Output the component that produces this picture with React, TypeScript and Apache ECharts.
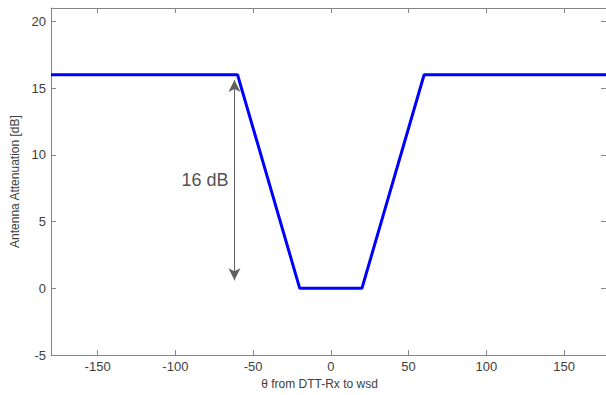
import React, { useEffect, useRef } from "react";
import * as echarts from "echarts";

const angles = [-180, -60, -20, 20, 60, 180];
const attenuation = [16, 16, 0, 0, 16, 16];
const xTicks = [-150, -100, -50, 0, 50, 100, 150];
const yTicks = [-5, 0, 5, 10, 15, 20];
const arrowX = -62;
const arrowFrom = 15.6;
const arrowTo = 0.6;
const annotation = { x: -81, y: 8.15, text: "16 dB" };

const FONT = "'Liberation Sans', Arial, sans-serif";
const AX = "#858585";

export default function App() {
  const ref = useRef<HTMLDivElement>(null);
  useEffect(() => {
    const chart = echarts.init(ref.current!, null, { renderer: "svg" });
    const axisCommon = {
      type: "value",
      axisLine: { show: true, onZero: false, lineStyle: { color: AX, width: 1 } },
      splitLine: { show: false },
    };
    chart.setOption({
      animation: false,
      backgroundColor: "#ffffff",
      grid: { left: 51, top: 8, width: 555, height: 351, containLabel: false },
      xAxis: [
        {
          ...axisCommon,
          position: "bottom",
          min: -180,
          max: 177,
          axisTick: { show: true, inside: true, length: 5, customValues: xTicks, lineStyle: { color: AX } },
          axisLabel: { customValues: xTicks, color: "#404040", fontSize: 13, fontFamily: FONT, margin: 5 },
          name: "θ from DTT-Rx to wsd",
          nameLocation: "middle",
          nameGap: 17,
          nameTextStyle: { color: "#404040", fontSize: 12, fontFamily: FONT, padding: [0, 18, 0, 0] },
        },
        {
          ...axisCommon,
          position: "top",
          min: -180,
          max: 177,
          axisTick: { show: true, inside: true, length: 5, customValues: xTicks, lineStyle: { color: AX } },
          axisLabel: { show: false },
        },
      ],
      yAxis: [
        {
          ...axisCommon,
          position: "left",
          min: -5,
          max: 21,
          axisTick: { show: true, inside: true, length: 5, customValues: yTicks, lineStyle: { color: AX } },
          axisLabel: { customValues: yTicks, color: "#404040", fontSize: 13, fontFamily: FONT, margin: 5 },
          name: "Antenna Attenuation [dB]",
          nameLocation: "middle",
          nameGap: 29,
          nameTextStyle: { color: "#404040", fontSize: 12, fontFamily: FONT },
        },
        {
          ...axisCommon,
          position: "right",
          min: -5,
          max: 21,
          axisTick: { show: true, inside: true, length: 5, customValues: yTicks, lineStyle: { color: AX } },
          axisLabel: { show: false },
        },
      ],
      series: [
        {
          type: "line",
          data: angles.map((a, i) => [a, attenuation[i]]),
          showSymbol: false,
          symbol: "none",
          lineStyle: { color: "#0000ff", width: 3 },
          clip: true,
          silent: true,
          z: 3,
        },
        {
          type: "line",
          data: [],
          silent: true,
          markLine: {
            silent: true,
            symbol: ["arrow", "arrow"],
            symbolSize: [9, 12],
            label: { show: false },
            lineStyle: { color: "#606060", width: 1, type: "solid" },
            itemStyle: { color: "#111111" },
            emphasis: { disabled: true },
            data: [[{ coord: [arrowX, arrowFrom] }, { coord: [arrowX, arrowTo] }]],
          },
          z: 2,
        },
        {
          type: "scatter",
          data: [[annotation.x, annotation.y]],
          symbolSize: 0,
          silent: true,
          label: {
            show: true,
            position: "inside",
            formatter: annotation.text,
            color: "#222222",
            fontSize: 18,
            fontFamily: FONT,
          },
        },
      ],
    });
    return () => chart.dispose();
  }, []);
  return (
    <div
      ref={ref}
      style={{ position: "fixed", left: 0, top: 0, width: 606, height: 395, background: "#fff" }}
    />
  );
}
